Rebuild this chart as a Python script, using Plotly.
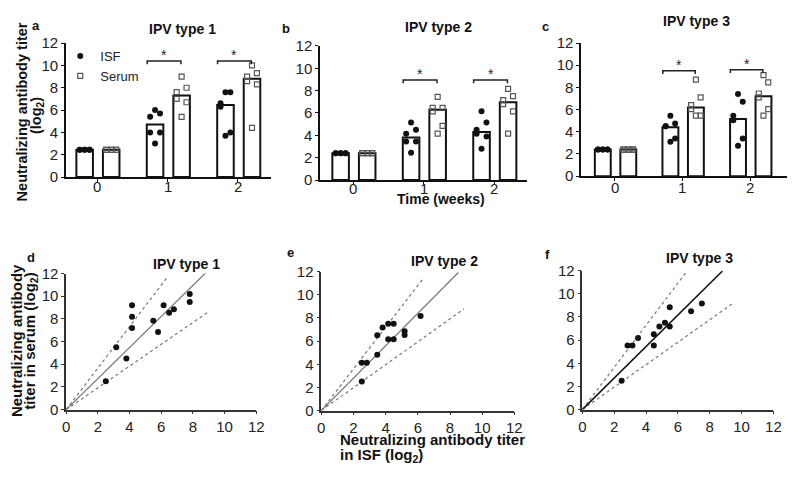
import plotly.graph_objects as go

W, H = 800, 480
FONT = "Liberation Sans, Arial, sans-serif"

# ---------------- data ----------------
WEEKS = [0, 1, 2]
WEEK_LABELS = ["0", "1", "2"]
TITER_TICKS = [0, 2, 4, 6, 8, 10, 12]
TITER_LABELS = ["0", "2", "4", "6", "8", "10", "12"]

# Panel a - IPV type 1 (medians and individual log2 titers)
A_ISF_MEDIAN = [2.45, 4.7, 6.45]
A_SERUM_MEDIAN = [2.45, 7.3, 8.8]
A_ISF_W0 = [2.45, 2.45, 2.45, 2.45, 2.45, 2.45]
A_ISF_W1 = [6.0, 5.7, 5.4, 4.0, 4.0, 3.0]
A_ISF_W2 = [7.6, 7.6, 6.6, 6.3, 4.0, 3.7]
A_SERUM_W0 = [2.45, 2.45, 2.45, 2.45, 2.45, 2.45]
A_SERUM_W1 = [9.0, 8.0, 7.6, 7.0, 6.7, 5.4]
A_SERUM_W2 = [10.0, 9.3, 9.0, 8.6, 8.3, 4.4]
A_SIG_Y = [10.4, 10.4]

# Panel b - IPV type 2
B_ISF_MEDIAN = [2.4, 3.8, 4.3]
B_SERUM_MEDIAN = [2.4, 6.3, 6.95]
B_ISF_W0 = [2.4, 2.4, 2.4, 2.4, 2.4, 2.4]
B_ISF_W1 = [5.15, 4.5, 4.15, 3.45, 3.45, 2.45]
B_ISF_W2 = [6.15, 5.15, 4.5, 4.15, 3.9, 2.8]
B_SERUM_W0 = [2.4, 2.4, 2.4, 2.4, 2.4, 2.4]
B_SERUM_W1 = [7.45, 6.45, 6.45, 6.15, 4.85, 4.15]
B_SERUM_W2 = [8.15, 7.5, 7.15, 6.8, 6.15, 4.15]
B_SIG_Y = [8.95, 8.95]

# Panel c - IPV type 3
C_ISF_MEDIAN = [2.4, 4.4, 5.15]
C_SERUM_MEDIAN = [2.4, 6.2, 7.2]
C_ISF_W0 = [2.4, 2.4, 2.4, 2.4, 2.4, 2.4]
C_ISF_W1 = [5.45, 4.75, 4.5, 4.5, 3.4, 3.1]
C_ISF_W2 = [7.4, 6.7, 5.45, 5.05, 3.4, 2.75]
C_SERUM_W0 = [2.4, 2.4, 2.4, 2.4, 2.4, 2.4]
C_SERUM_W1 = [8.7, 7.1, 6.4, 6.05, 5.45, 5.45]
C_SERUM_W2 = [9.1, 8.45, 7.45, 7.1, 6.05, 5.45]
C_SIG_Y = [9.5, 9.6]

# Panels d-f: ISF titer (x) vs serum titer (y)
D_ISF = [2.5, 3.16, 3.8, 4.16, 4.16, 4.16, 5.5, 5.8, 6.15, 6.5, 6.8, 7.8, 7.8]
D_SERUM = [2.5, 5.5, 4.5, 9.2, 8.2, 7.2, 7.84, 6.85, 9.2, 8.55, 8.86, 10.2, 9.5]
E_ISF = [2.52, 2.52, 2.83, 3.48, 3.48, 3.81, 4.16, 4.5, 4.16, 4.5, 5.18, 5.18, 6.17]
E_SERUM = [2.5, 4.14, 4.14, 4.83, 6.5, 7.17, 7.5, 7.5, 6.17, 6.17, 6.86, 6.53, 8.17]
F_ISF = [2.47, 2.84, 3.15, 3.5, 4.49, 4.49, 4.84, 5.19, 5.49, 5.49, 6.83, 7.51]
F_SERUM = [2.49, 5.54, 5.54, 6.18, 5.54, 6.51, 7.17, 7.5, 7.17, 8.84, 8.5, 9.17]

# Regression through origin (slope, line end x) and prediction bands
D_FIT = [1.37, 8.8]
D_UPPER = [1.83, 6.38]
D_LOWER = [0.96, 8.94]
E_FIT = [1.40, 8.52]
E_UPPER = [1.80, 6.35]
E_LOWER = [0.99, 8.87]
F_FIT = [1.36, 8.8]
F_UPPER = [1.82, 6.52]
F_LOWER = [0.97, 9.5]

# ---------------- style ----------------
ISF_OFF = -0.295
SER_OFF = 0.082
BAR_W = 0.235
JITTER = [0.0, 0.07, -0.07, -0.07, 0.07, 0.0]
BR_L = -0.29
BR_R = 0.19
OFF = 8  # page body margin


def px(x):
    return (x - OFF) / W


def py(y):
    return 1 - (y - OFF) / H


def xd(l, r):
    return [px(l), px(r)]


def yd(top, bottom):
    return [py(bottom), py(top)]


fig = go.Figure()


def bar_panel(n, isf_med, ser_med, isf_pts, ser_pts, sig_y, legend, label_y):
    xa = "x" if n == 1 else f"x{n}"
    ya = "y" if n == 1 else f"y{n}"
    for med, off in ((isf_med, ISF_OFF), (ser_med, SER_OFF)):
        fig.add_trace(go.Bar(x=WEEKS, y=med, width=BAR_W, offset=off,
                             marker=dict(color="white", line=dict(color="#111", width=2)),
                             showlegend=False, hoverinfo="skip", xaxis=xa, yaxis=ya))
    for pts, off, name, mk in (
        (isf_pts, ISF_OFF + BAR_W / 2, "ISF",
         dict(symbol="circle", size=6, color="#111")),
        (ser_pts, SER_OFF + BAR_W / 2, "Serum",
         dict(symbol="square-open", size=5, color="#555", line=dict(width=1.2))),
    ):
        xs, ys = [], []
        for w, vals in zip(WEEKS, pts):
            for j, v in zip(JITTER, vals):
                xs.append(w + off + j)
                ys.append(v)
        fig.add_trace(go.Scatter(x=xs, y=ys, mode="markers", marker=mk, name=name,
                                 showlegend=legend, xaxis=xa, yaxis=ya, hoverinfo="skip"))
    for w, by in zip(WEEKS[1:], sig_y):
        fig.add_trace(go.Scatter(x=[w + BR_L, w + BR_L, w + BR_R, w + BR_R],
                                 y=[by - 0.3, by, by, by - 0.3], mode="lines",
                                 line=dict(color="#222", width=1.5), showlegend=False,
                                 hoverinfo="skip", xaxis=xa, yaxis=ya))
        fig.add_annotation(x=w + (BR_L + BR_R) / 2, y=by, xref=xa, yref=ya, text="*",
                           showarrow=False, yanchor="bottom", yshift=-4,
                           font=dict(family=FONT, size=14, color="#222"))
    # week tick labels (placed close to the axis, as in the original)
    for w, lab in zip(WEEKS, WEEK_LABELS):
        fig.add_annotation(x=w, xref=xa, y=py(label_y), yref="paper", text=lab,
                           showarrow=False, yanchor="middle",
                           font=dict(family=FONT, size=15, color="#222"))


def scatter_panel(n, xs, ys, fit, upper, lower, fit_color, fit_width):
    xa = f"x{n}"
    ya = f"y{n}"
    for (slope, xend), color, width, dash in (
            (upper, "#777", 1.2, "dot"), (lower, "#777", 1.2, "dot"),
            (fit, fit_color, fit_width, "solid")):
        fig.add_trace(go.Scatter(x=[0, xend], y=[0, slope * xend], mode="lines",
                                 line=dict(color=color, width=width, dash=dash),
                                 showlegend=False, hoverinfo="skip", xaxis=xa, yaxis=ya))
    fig.add_trace(go.Scatter(x=xs, y=ys, mode="markers",
                             marker=dict(symbol="circle", size=6, color="#111"),
                             showlegend=False, hoverinfo="skip", xaxis=xa, yaxis=ya))


bar_panel(1, A_ISF_MEDIAN, A_SERUM_MEDIAN, [A_ISF_W0, A_ISF_W1, A_ISF_W2],
          [A_SERUM_W0, A_SERUM_W1, A_SERUM_W2], A_SIG_Y, True, 184)
bar_panel(2, B_ISF_MEDIAN, B_SERUM_MEDIAN, [B_ISF_W0, B_ISF_W1, B_ISF_W2],
          [B_SERUM_W0, B_SERUM_W1, B_SERUM_W2], B_SIG_Y, False, 186)
bar_panel(3, C_ISF_MEDIAN, C_SERUM_MEDIAN, [C_ISF_W0, C_ISF_W1, C_ISF_W2],
          [C_SERUM_W0, C_SERUM_W1, C_SERUM_W2], C_SIG_Y, False, 185)
scatter_panel(4, D_ISF, D_SERUM, D_FIT, D_UPPER, D_LOWER, "#777", 1.2)
scatter_panel(5, E_ISF, E_SERUM, E_FIT, E_UPPER, E_LOWER, "#777", 1.2)
scatter_panel(6, F_ISF, F_SERUM, F_FIT, F_UPPER, F_LOWER, "#111", 1.6)

tickfont = dict(family=FONT, size=15, color="#222")


def bar_axes(dom_x, dom_y, xr, anchor_y, anchor_x):
    xa = dict(domain=xd(*dom_x), range=xr, tickvals=WEEKS, showticklabels=False,
              showline=True, linecolor="#111", linewidth=2, ticks="outside", ticklen=3,
              tickcolor="#111", showgrid=False, zeroline=False,
              anchor=anchor_y, fixedrange=True)
    ya = dict(domain=yd(*dom_y), range=[0, 12], tickvals=TITER_TICKS, ticktext=TITER_LABELS,
              showline=True, linecolor="#111", linewidth=2, ticks="outside", ticklen=3,
              tickcolor="#111", showgrid=False, zeroline=False, tickfont=tickfont,
              anchor=anchor_x, fixedrange=True)
    return xa, ya


def sc_axes(dom_x, dom_y, anchor_y, anchor_x):
    common = dict(range=[0, 12], tickvals=TITER_TICKS, ticktext=TITER_LABELS,
                  showline=True, linecolor="#333", linewidth=1.5, ticks="outside", ticklen=3,
                  tickcolor="#333", showgrid=False, zeroline=False, tickfont=tickfont,
                  fixedrange=True)
    xa = dict(domain=xd(*dom_x), anchor=anchor_y, **common)
    ya = dict(domain=yd(*dom_y), anchor=anchor_x, **common)
    return xa, ya


x1, y1 = bar_axes((63, 271), (35, 174), [-0.44, 2.47], "y", "x")
x2, y2 = bar_axes((321, 531), (38, 177), [-0.466, 2.47], "y2", "x2")
x3, y3 = bar_axes((586, 795), (35, 173), [-0.495, 2.55], "y3", "x3")
x4, y4 = sc_axes((63, 256), (274, 415), "y4", "x4")
x5, y5 = sc_axes((322, 518), (272, 416), "y5", "x5")
x6, y6 = sc_axes((587, 781), (271, 415), "y6", "x6")

fig.update_layout(
    width=W, height=H, margin=dict(l=0, r=0, t=0, b=0),
    paper_bgcolor="white", plot_bgcolor="white", barmode="overlay",
    font=dict(family=FONT, color="#111"),
    xaxis=x1, yaxis=y1, xaxis2=x2, yaxis2=y2, xaxis3=x3, yaxis3=y3,
    xaxis4=x4, yaxis4=y4, xaxis5=x5, yaxis5=y5, xaxis6=x6, yaxis6=y6,
    legend=dict(x=px(57), y=py(33), xanchor="left", yanchor="top",
                bgcolor="rgba(0,0,0,0)", font=dict(family=FONT, size=13, color="#222"),
                tracegroupgap=0, itemwidth=30),
)


def ann(x, y, text, size=14, bold=True, angle=0, xanchor="center"):
    t = f"<b>{text}</b>" if bold else text
    fig.add_annotation(x=px(x), y=py(y), xref="paper", yref="paper", text=t,
                       showarrow=False, textangle=angle, xanchor=xanchor, yanchor="middle",
                       font=dict(family=FONT, size=size, color="#111"))


# panel letters
for lx, ly, lt in ((32, 17, "a"), (286, 20, "b"), (550, 18, "c"),
                   (27, 257, "d"), (291, 252, "e"), (552, 254, "f")):
    ann(lx, ly, lt, size=13)

# titles
for tx, ty, tt in ((181, 20, "IPV type 1"), (441, 18, "IPV type 2"), (703, 12, "IPV type 3"),
                   (185, 264, "IPV type 1"), (447, 261, "IPV type 2"), (706, 258, "IPV type 3")):
    ann(tx, ty, tt, size=14)

# axis titles (one annotation per line)
ann(18, 106, "Neutralizing antibody titer", size=14.5, angle=-90)
ann(34, 110, "(log<sub>2</sub>)", size=14.5, angle=-90)
ann(444, 197, "Time (weeks)", size=14)
ann(12, 343, "Neutralizing antibody", size=15, angle=-90)
ann(26, 344, "titer in serum (log<sub>2</sub>)", size=15, angle=-90)
ann(339, 446, "Neutralizing antibody titer", size=15, xanchor="left")
ann(339, 463, "in ISF (log<sub>2</sub>)", size=15, xanchor="left")

fig.write_html("out.html")
